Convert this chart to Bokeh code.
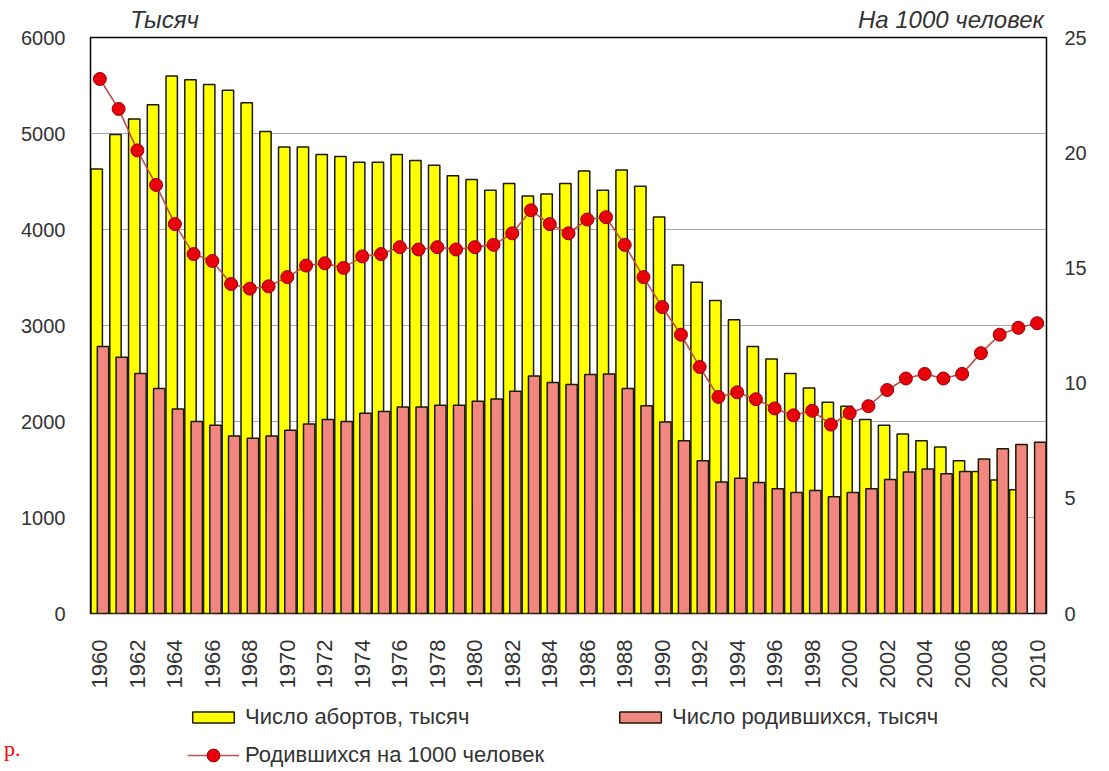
import numpy as np
from bokeh.plotting import figure
from bokeh.layouts import column
from bokeh.models import (Range1d, LinearAxis, FixedTicker, Legend, LegendItem,
                          ColumnDataSource)
from bokeh.transform import dodge
from bokeh.embed import file_html
from bokeh.resources import INLINE

years = list(range(1960, 2011))
abortions = [4630, 4990, 5150, 5300, 5600, 5560, 5510, 5450, 5320, 5020,
             4860, 4860, 4780, 4760, 4700, 4700, 4780, 4720, 4670, 4560,
             4520, 4410, 4480, 4350, 4370, 4480, 4610, 4410, 4620, 4450,
             4130, 3630, 3450, 3260, 3060, 2780, 2650, 2500, 2350, 2200,
             2160, 2020, 1960, 1870, 1800, 1735, 1590, 1480, 1390, 1290,
             None]
births = [2780, 2670, 2500, 2345, 2130, 2000, 1960, 1850, 1825, 1850,
          1910, 1975, 2020, 2000, 2085, 2105, 2150, 2150, 2170, 2170,
          2210, 2235, 2315, 2475, 2405, 2385, 2490, 2495, 2345, 2165,
          1995, 1800, 1590, 1370, 1410, 1365, 1300, 1260, 1280, 1215,
          1260, 1300, 1395, 1475, 1505, 1455, 1480, 1610, 1715, 1760,
          1785]
rate = [23.2, 21.9, 20.1, 18.6, 16.9, 15.6, 15.3, 14.3, 14.1, 14.2,
        14.6, 15.1, 15.2, 15.0, 15.5, 15.6, 15.9, 15.8, 15.9, 15.8,
        15.9, 16.0, 16.5, 17.5, 16.9, 16.5, 17.1, 17.2, 16.0, 14.6,
        13.3, 12.1, 10.7, 9.4, 9.6, 9.3, 8.9, 8.6, 8.8, 8.2,
        8.7, 9.0, 9.7, 10.2, 10.4, 10.2, 10.4, 11.3, 12.1, 12.4,
        12.6]
left_ticks = [0, 1000, 2000, 3000, 4000, 5000, 6000]
right_ticks = [0, 5, 10, 15, 20, 25]
year_ticks = list(range(1960, 2011, 2))
label_abort = "Число абортов, тысяч"
label_births = "Число родившихся, тысяч"
label_rate = "Родившихся на 1000 человек"
title_left = "Тысяч"
title_right = "На 1000 человек"
corner_text = "р."

FONT = "Liberation Sans"
TXT = "#333333"
YEL = "#FFFF00"
PINK = "#F28680"
BAR_EDGE = "#1a1a00"
LINE_C = "#c0504d"
DOT_FILL = "#e8000b"
DOT_EDGE = "#9a0000"
W_FULL = 1109
FRAME_L, FRAME_R = 88, 1046       # page x of the plot area edges
CAP_LEFT_AT, CAP_RIGHT_AT = 1963.45, 2005.4   # caption centres (x units)

ab_src = ColumnDataSource(dict(
    year=[y for y, a in zip(years, abortions) if a is not None],
    val=[a for a in abortions if a is not None]))
src = ColumnDataSource(dict(year=years, births=births, rate=rate))


def plain_axis(ax, size="20px"):
    ax.axis_line_color = None
    ax.major_tick_line_color = None
    ax.minor_tick_line_color = None
    ax.major_tick_out = 0
    ax.major_tick_in = 0
    ax.major_label_text_font = FONT
    ax.major_label_text_font_size = size
    ax.major_label_text_color = TXT


# ---------- main chart ----------
MAIN_H = 700
p = figure(width=W_FULL, height=MAIN_H, x_range=Range1d(1959.5, 2010.5),
           y_range=Range1d(0, 6000), output_backend="svg",
           toolbar_location=None, min_border_left=FRAME_L,
           min_border_right=W_FULL - FRAME_R, min_border_top=37,
           min_border_bottom=87)
p.extra_y_ranges = {"rate": Range1d(0, 25)}
p.background_fill_color = "white"
p.border_fill_color = "white"
p.outline_line_color = "black"
p.outline_line_width = 1.5

p.xgrid.visible = False
p.ygrid.ticker = FixedTicker(ticks=left_ticks)
p.ygrid.grid_line_color = "#a8a8a8"
p.ygrid.grid_line_width = 1

plain_axis(p.yaxis[0])
plain_axis(p.xaxis[0], "22px")
p.yaxis.ticker = FixedTicker(ticks=left_ticks)
p.yaxis.major_label_standoff = 25
p.xaxis.ticker = FixedTicker(ticks=year_ticks)
p.xaxis.major_label_orientation = np.pi / 2
p.xaxis.major_label_standoff = 26

rax = LinearAxis(y_range_name="rate", ticker=FixedTicker(ticks=right_ticks))
plain_axis(rax)
rax.major_label_standoff = 18
p.add_layout(rax, "right")

# captions over the plot area ("Тысяч" / "На 1000 человек")
cap = LinearAxis(ticker=FixedTicker(ticks=[CAP_LEFT_AT, CAP_RIGHT_AT]),
                 major_label_overrides={CAP_LEFT_AT: title_left,
                                        CAP_RIGHT_AT: title_right})
plain_axis(cap, "24px")
cap.major_label_text_font_style = "italic"
cap.major_label_standoff = 5
p.add_layout(cap, "above")

W = 0.606
bar_ab = dict(fill_color=YEL, line_color=BAR_EDGE, line_width=1.5)
bar_bi = dict(fill_color=PINK, line_color=BAR_EDGE, line_width=1.5)
line_kw = dict(line_color=LINE_C, line_width=1.6)
dot_kw = dict(size=13, fill_color=DOT_FILL, line_color=DOT_EDGE, line_width=1)

p.vbar(x=dodge("year", -0.167, range=p.x_range), top="val", width=W,
       bottom=0, source=ab_src, **bar_ab)
p.vbar(x=dodge("year", 0.167, range=p.x_range), top="births", width=W,
       bottom=0, source=src, **bar_bi)
p.line(x="year", y="rate", source=src, y_range_name="rate", **line_kw)
p.scatter(x="year", y="rate", source=src, y_range_name="rate", **dot_kw)

# ---------- legend strip ----------
LEG_H = 771 - MAIN_H
lf = figure(width=W_FULL, height=LEG_H, x_range=Range1d(FRAME_L, FRAME_R),
            y_range=Range1d(0, LEG_H), output_backend="svg",
            toolbar_location=None, min_border=0,
            x_axis_location=None, y_axis_location=None)
lf.xgrid.visible = False
lf.ygrid.visible = False
lf.outline_line_color = None
lf.background_fill_color = "white"
lf.border_fill_color = "white"
# legend swatches (hidden renderers that only lend their style to the legend)
g_ab = lf.vbar(x="year", top="val", width=W, source=ab_src, visible=False,
               **bar_ab)
g_bi = lf.vbar(x="year", top="births", width=W, source=src, visible=False,
               **bar_bi)
g_ln = lf.line(x="year", y="rate", source=src, visible=False, **line_kw)
g_dt = lf.scatter(x="year", y="rate", source=src, visible=False, **dot_kw)

common = dict(glyph_width=52, label_standoff=6, spacing=0, padding=0,
              margin=0, border_line_color=None, background_fill_alpha=0,
              label_text_font=FONT, label_text_font_size="22px",
              label_text_color=TXT, label_height=24, inactive_fill_alpha=0)
leg1 = Legend(items=[LegendItem(label=label_abort, renderers=[g_ab]),
                     LegendItem(label=label_births, renderers=[g_bi])],
              orientation="horizontal", location=(185 - FRAME_L, 41),
              glyph_height=14, label_width=369, **common)
leg2 = Legend(items=[LegendItem(label=label_rate, renderers=[g_ln, g_dt])],
              location=(185 - FRAME_L, 0), glyph_height=32, **common)
lf.add_layout(leg1)
lf.add_layout(leg2)

# the red "р." fragment at the far left, as a single left tick label
corner_axis = LinearAxis(ticker=FixedTicker(ticks=[2]),
                         major_label_overrides={2: corner_text})
plain_axis(corner_axis, "22px")
corner_axis.major_label_standoff = 70
corner_axis.major_label_text_color = "red"
corner_axis.major_label_text_font = "Liberation Serif"
lf.add_layout(corner_axis, "left")

layout = column(p, lf, spacing=0)
open("out.html", "w").write(file_html(layout, INLINE))
